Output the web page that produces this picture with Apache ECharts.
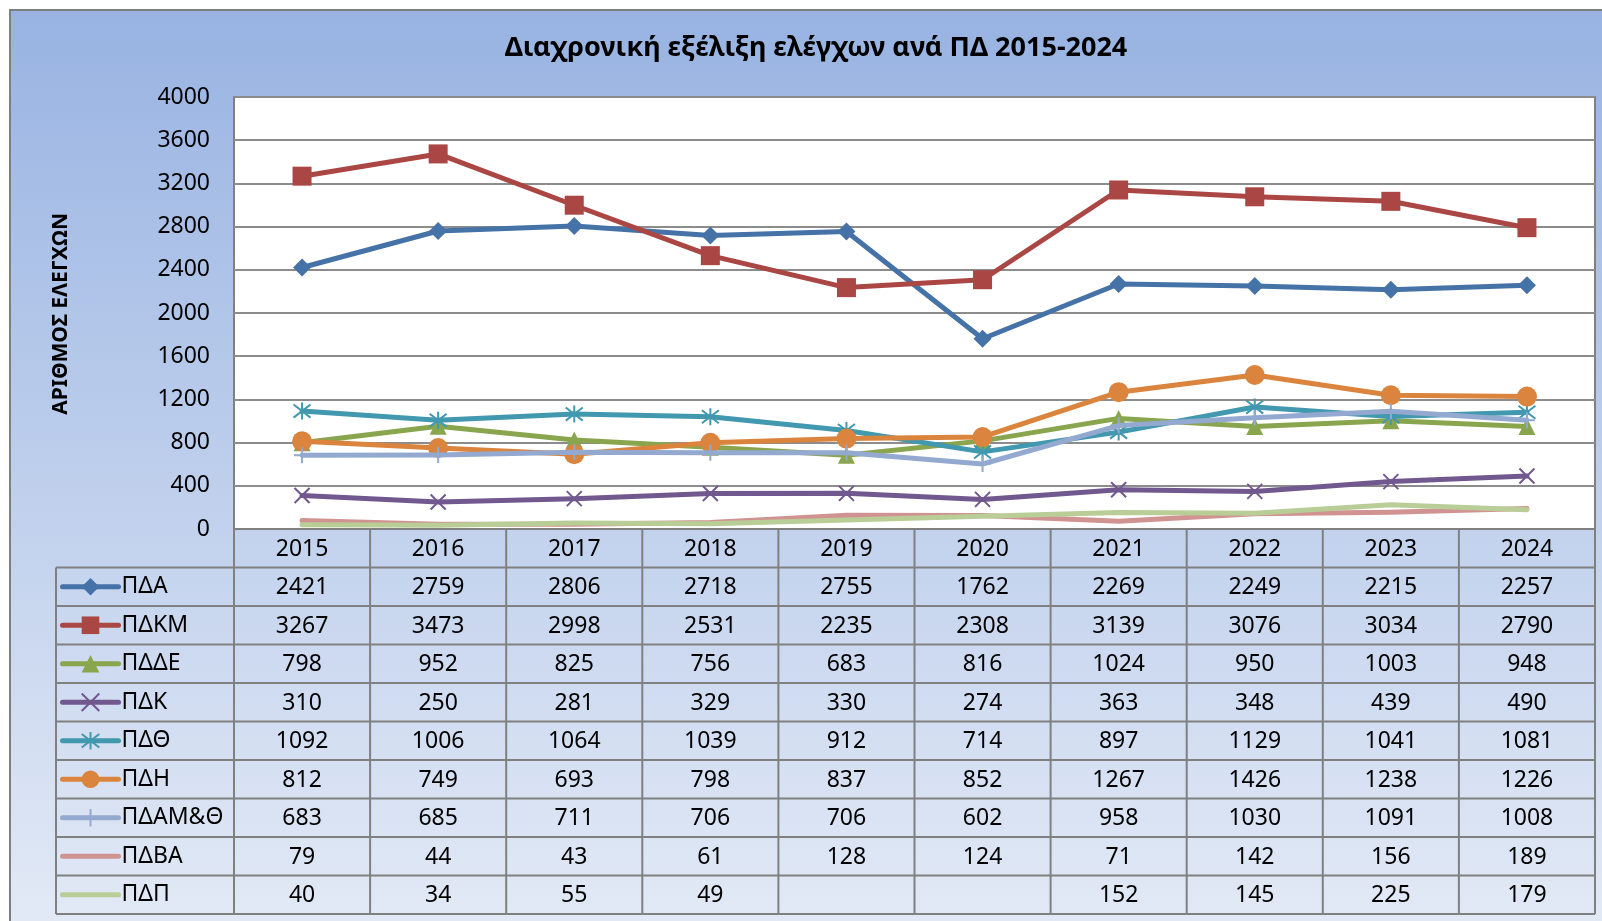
<!DOCTYPE html>
<html lang="el">
<head>
    <meta charset="UTF-8">
    <title>Διαχρονική εξέλιξη ελέγχων</title>
    <script src="https://cdn.jsdelivr.net/npm/echarts@6/dist/echarts.min.js"></script>
    <style>
        html, body { margin: 0; padding: 0; background: #fff; }
        #main { width: 1602px; height: 921px; }
    </style>
</head>
<body>
<div id="main"></div>
<script>
    var years = ['2015', '2016', '2017', '2018', '2019', '2020', '2021', '2022', '2023', '2024'];
    var yTicks = [0, 400, 800, 1200, 1600, 2000, 2400, 2800, 3200, 3600, 4000];

    var names = ['ΠΔΑ', 'ΠΔΚΜ', 'ΠΔΔΕ', 'ΠΔΚ', 'ΠΔΘ', 'ΠΔΗ', 'ΠΔΑΜ&Θ', 'ΠΔΒΑ', 'ΠΔΠ'];
    var pda   = [2421, 2759, 2806, 2718, 2755, 1762, 2269, 2249, 2215, 2257];
    var pdkm  = [3267, 3473, 2998, 2531, 2235, 2308, 3139, 3076, 3034, 2790];
    var pdde  = [798, 952, 825, 756, 683, 816, 1024, 950, 1003, 948];
    var pdk   = [310, 250, 281, 329, 330, 274, 363, 348, 439, 490];
    var pdth  = [1092, 1006, 1064, 1039, 912, 714, 897, 1129, 1041, 1081];
    var pdh   = [812, 749, 693, 798, 837, 852, 1267, 1426, 1238, 1226];
    var pdamth = [683, 685, 711, 706, 706, 602, 958, 1030, 1091, 1008];
    var pdva  = [79, 44, 43, 61, 128, 124, 71, 142, 156, 189];
    var pdp   = [40, 34, 55, 49, null, null, 152, 145, 225, 179];

    var values = [pda, pdkm, pdde, pdk, pdth, pdh, pdamth, pdva, pdp];

    // look of each line (Excel 2007 palette)
    var colors = ['#4572A7', '#AA4643', '#89A54E', '#71588F', '#4198AF', '#DB843D', '#93A9CF', '#D19392', '#B9CD96'];
    var symbols = ['diamond', 'rect', 'triangle',
        'path://M0,0L10,10M10,0L0,10',
        'path://M0,0L10,10M10,0L0,10M5,-1.5L5,11.5',
        'circle',
        'path://M5,0L5,10M0,5L10,5',
        'none', 'none'];
    var symbolSizes = [18, 19, 17, 15, 17, 20, 16, 0, 0];
    var strokeOnly = [false, false, false, true, true, false, true, false, false];

    var FONT = 'Noto Sans';
    var W = 1602, H = 921;
    var plotLeft = 234, plotTop = 97, plotW = 1361, plotH = 432;
    var plotBottom = plotTop + plotH;
    var headH = 38.5, rowH = 38.5;
    var tableLeft = 56;
    var gridColor = '#808080';

    var chart = echarts.init(document.getElementById('main'));

    var series = names.map(function (n, i) {
        var st = {color: colors[i]};
        if (strokeOnly[i]) {
            st.borderColor = colors[i];
            st.borderWidth = 2;
        }
        return {
            name: n,
            type: 'line',
            data: values[i],
            connectNulls: true,
            symbol: symbols[i],
            symbolSize: symbolSizes[i],
            showSymbol: symbols[i] !== 'none',
            lineStyle: {width: 5, color: colors[i], cap: 'round', join: 'round'},
            itemStyle: st,
            emphasis: {disabled: true},
            z: 2 + i * 0.01
        };
    });

    // one legend per table row, so each key sits in its own row
    var legends = names.map(function (n, i) {
        var lg = {
            data: [n],
            left: 60,
            top: plotBottom + headH + i * rowH,
            padding: 0,
            itemWidth: 56,
            itemHeight: 22,
            itemGap: 0,
            selectedMode: false,
            lineStyle: {width: 5, cap: 'round'},
            textStyle: {fontFamily: FONT, fontSize: 23, color: '#000', lineHeight: rowH, padding: [0, 0, 0, -2]}
        };
        if (symbols[i] === 'none') lg.itemStyle = {opacity: 0};
        return lg;
    });

    var option = {
        animation: false,
        textStyle: {fontFamily: FONT},
        legend: legends,
        grid: {
            left: plotLeft,
            top: plotTop,
            width: plotW,
            height: plotH,
            show: true,
            backgroundColor: '#ffffff',
            borderColor: gridColor,
            borderWidth: 2
        },
        xAxis: {
            type: 'category',
            data: years,
            boundaryGap: true,
            axisLine: {show: true, lineStyle: {color: gridColor, width: 2}},
            axisTick: {show: false},
            axisLabel: {show: false},
            splitLine: {show: false}
        },
        yAxis: {
            type: 'value',
            min: yTicks[0],
            max: yTicks[yTicks.length - 1],
            interval: yTicks[1] - yTicks[0],
            axisLine: {show: false},
            axisTick: {show: false},
            axisLabel: {
                fontFamily: FONT, fontSize: 23, color: '#000', margin: 24,
                formatter: function (v) { return String(v); }
            },
            splitLine: {lineStyle: {color: '#8c8c8c', width: 2}}
        },
        series: series
    };

    chart.setOption(option);

    // data table under the plot, columns taken from the category axis
    var xs = years.map(function (y) {
        return chart.convertToPixel({xAxisIndex: 0}, y);
    });
    var colW = plotW / years.length;
    var tableBottom = plotBottom + headH + names.length * rowH;

    var g = [];
    g.push({
        type: 'rect', z: -10,
        shape: {x: 10, y: 10, width: W, height: H},
        style: {
            fill: new echarts.graphic.LinearGradient(0, 0, 0, 1, [
                {offset: 0, color: '#98B3E2'},
                {offset: 1, color: '#E3EAF6'}
            ]),
            stroke: '#7f7f7f', lineWidth: 2
        }
    });
    g.push({
        type: 'text', z: 10,
        x: 816, y: 48,
        style: {
            text: 'Διαχρονική εξέλιξη ελέγχων ανά ΠΔ 2015-2024',
            fontFamily: FONT, fontSize: 27, fontWeight: 'bold', fill: '#000',
            align: 'center', verticalAlign: 'middle'
        }
    });
    g.push({
        type: 'text', z: 10,
        x: 61, y: 314, rotation: Math.PI / 2,
        style: {
            text: 'ΑΡΙΘΜΟΣ ΕΛΕΓΧΩΝ',
            fontFamily: FONT, fontSize: 21, fontWeight: 'bold', fill: '#000',
            align: 'center', verticalAlign: 'middle'
        }
    });

    var lineStyle = {stroke: gridColor, lineWidth: 2};
    // horizontal rules
    for (var r = 0; r <= names.length; r++) {
        var yy = plotBottom + headH + r * rowH;
        g.push({type: 'line', z: 10, shape: {x1: tableLeft, y1: yy, x2: plotLeft + plotW, y2: yy}, style: lineStyle});
    }
    // vertical rules
    for (var c = 0; c <= years.length; c++) {
        var xx = plotLeft + c * colW;
        g.push({type: 'line', z: 10, shape: {x1: xx, y1: plotBottom, x2: xx, y2: tableBottom}, style: lineStyle});
    }
    g.push({type: 'line', z: 10, shape: {x1: tableLeft, y1: plotBottom + headH, x2: tableLeft, y2: tableBottom}, style: lineStyle});

    // header years
    years.forEach(function (y, j) {
        g.push({
            type: 'text', z: 11, x: xs[j], y: plotBottom + headH / 2 + 1,
            style: {text: y, fontFamily: FONT, fontSize: 23, fill: '#000', align: 'center', verticalAlign: 'middle'}
        });
    });
    // cell values
    values.forEach(function (row, i) {
        row.forEach(function (v, j) {
            if (v === null) return;
            g.push({
                type: 'text', z: 11, x: xs[j], y: plotBottom + headH + i * rowH + rowH / 2 + 1,
                style: {text: String(v), fontFamily: FONT, fontSize: 23, fill: '#000', align: 'center', verticalAlign: 'middle'}
            });
        });
    });

    chart.setOption({graphic: g});
</script>
</body>
</html>
